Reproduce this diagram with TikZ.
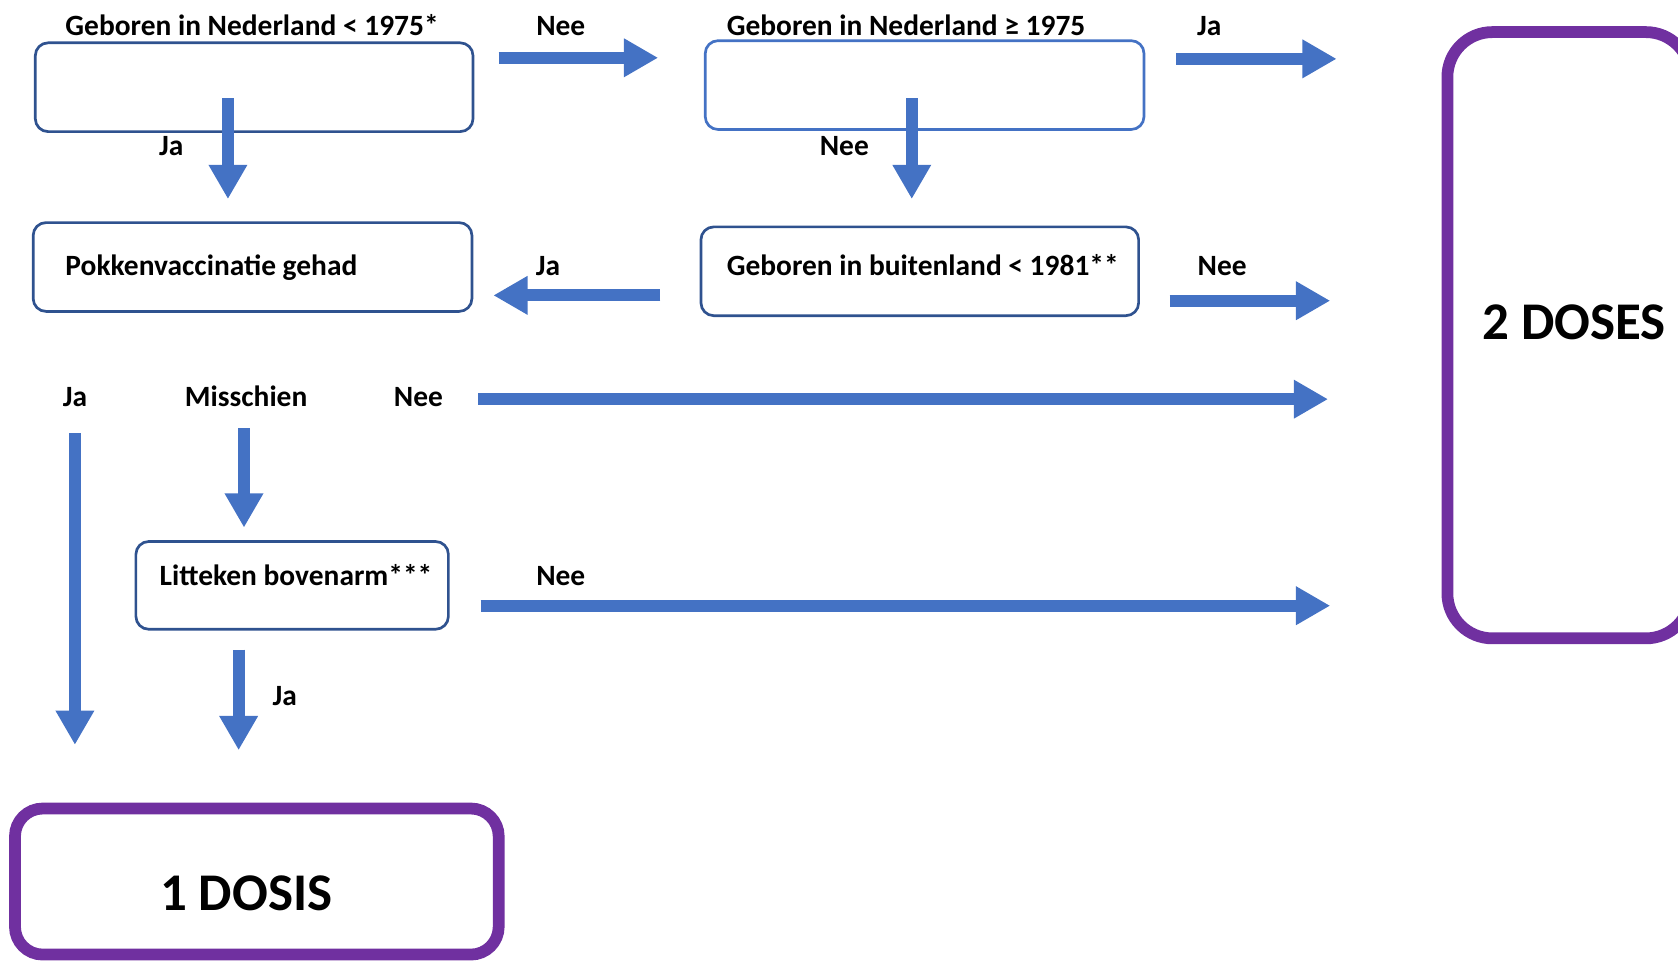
\documentclass[tikz,border=0pt]{standalone}
\usepackage{fontspec}
\setmainfont{Carlito}
\usetikzlibrary{arrows.meta}
\definecolor{arrowblue}{HTML}{4472C4}
\definecolor{boxdark}{HTML}{2F528F}
\definecolor{boxpurple}{HTML}{7030A0}
\begin{document}
\begin{tikzpicture}[x=1pt,y=-1pt,
  lbl/.style={font=\bfseries\fontsize{27.5}{31}\selectfont, inner sep=0pt, anchor=base},
  txt/.style={font=\bfseries\fontsize{27.5}{31}\selectfont, inner sep=0pt, anchor=base west},
  bigtxt/.style={font=\bfseries\fontsize{49.5}{55}\selectfont, inner sep=0pt, anchor=base},
  qbox/.style={draw=boxdark, line width=2.5pt, rounded corners=12pt, inner sep=0pt, fill=white},
  fat/.style={draw=arrowblue, line width=11pt, -{Triangle[width=34pt,length=32pt]}},
  endbox/.style={draw=boxpurple, line width=11pt, inner sep=0pt}]
\useasboundingbox (0,0) rectangle (1568,899);
\clip (0,0) rectangle (1568,899);

% question boxes
\node[qbox, minimum width=409pt, minimum height=83pt] (b1) at (237.5,81.5) {};
\node[qbox, draw=arrowblue, minimum width=410pt, minimum height=83pt] (b2) at (864,79.5) {};
\node[qbox, minimum width=410pt, minimum height=83pt] (pok) at (236,249.5) {};
\node[qbox, minimum width=409pt, minimum height=83pt] (bui) at (859.5,253.5) {};
\node[qbox, minimum width=292pt, minimum height=82pt] (lit) at (273,547) {};

% end boxes
\draw[endbox, rounded corners=26pt] (14,755.5) rectangle (466,892);
\node[bigtxt] (one) at (230,851) {1 DOSIS};
\draw[endbox, rounded corners=42pt] (1352.5,30) rectangle (1580,596.5);
\node[bigtxt] (two) at (1471,317) {2 DOSES};

% texts
\node[txt] (t1) at (61,33.5) {Geboren in Nederland < 1975*};
\node[txt] (t2) at (679,33.5) {Geboren in Nederland ≥ 1975};
\node[txt] (t3) at (61,257.5) {Pokkenvaccinatie gehad};
\node[txt] (t4) at (679,257.5) {Geboren in buitenland < 1981**};
\node[txt] (t5) at (149,547.5) {Litteken bovenarm***};

% labels
\node[lbl] (l1) at (524,33.5) {Nee};
\node[lbl] (l2) at (160,145.5) {Ja};
\node[lbl] (l3) at (789,145.5) {Nee};
\node[lbl] (l4) at (1130,33.5) {Ja};
\node[lbl] (l5) at (512,257.5) {Ja};
\node[lbl] (l6) at (1142,257.5) {Nee};
\node[lbl] (l7) at (70,379.5) {Ja};
\node[lbl] (l8) at (230,379.5) {Misschien};
\node[lbl] (l9) at (391,379.5) {Nee};
\node[lbl] (l10) at (524,547.5) {Nee};
\node[lbl] (l11) at (266,659.5) {Ja};

% arrow end points
\coordinate (a1s) at (213,92);   \coordinate (a1e) at (213,186);
\coordinate (a2s) at (466,54);   \coordinate (a2e) at (615,54);
\coordinate (a3s) at (852,92);   \coordinate (a3e) at (852,186);
\coordinate (a4s) at (1099,55);  \coordinate (a4e) at (1249,55);
\coordinate (a5s) at (617,276);  \coordinate (a5e) at (461,276);
\coordinate (a6s) at (1093,281); \coordinate (a6e) at (1243,281);
\coordinate (a7s) at (447,373);  \coordinate (a7e) at (1241,373);
\coordinate (a8s) at (70,405);   \coordinate (a8e) at (70,696);
\coordinate (a9s) at (228,400);  \coordinate (a9e) at (228,493);
\coordinate (a10s) at (449,566); \coordinate (a10e) at (1243,566);
\coordinate (a11s) at (223,607); \coordinate (a11e) at (223,701);

\draw[fat] (a1s) -- (a1e);
\draw[fat] (a2s) -- (a2e);
\draw[fat] (a3s) -- (a3e);
\draw[fat] (a4s) -- (a4e);
\draw[fat] (a5s) -- (a5e);
\draw[fat] (a6s) -- (a6e);
\draw[fat] (a7s) -- (a7e);
\draw[fat] (a8s) -- (a8e);
\draw[fat] (a9s) -- (a9e);
\draw[fat] (a10s) -- (a10e);
\draw[fat] (a11s) -- (a11e);
\end{tikzpicture}
\end{document}
